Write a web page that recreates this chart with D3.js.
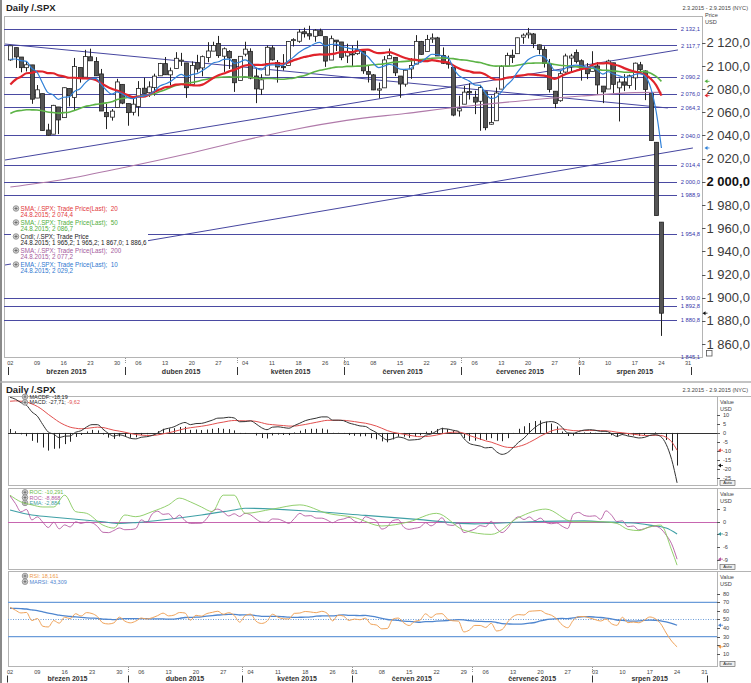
<!DOCTYPE html>
<html><head><meta charset="utf-8"><title>Daily /.SPX</title>
<script src="https://cdn.jsdelivr.net/npm/d3@7/dist/d3.min.js"></script>
<style>
html,body{margin:0;padding:0;background:#fff;}
svg{display:block;}
text{font-family:"Liberation Sans",Arial,Helvetica,sans-serif;}
</style></head><body>
<svg id="chart" width="751" height="683"></svg>
<script>
// ================= DATA =================
const marDays=[2,3,4,5,6,9,10,11,12,13,16,17,18,19,20,23,24,25,26,27,30,31];
const aprDays=[1,2,6,7,8,9,10,13,14,15,16,17,20,21,22,23,24,27,28,29,30];
const mayDays=[1,4,5,6,7,8,11,12,13,14,15,18,19,20,21,22,26,27,28,29];
const junDays=[1,2,3,4,5,8,9,10,11,12,15,16,17,18,19,22,23,24,25,26,29,30];
const julDays=[1,2,6,7,8,9,10,13,14,15,16,17,20,21,22,23,24,27,28,29,30,31];
const augDays=[3,4,5,6,7,10,11,12,13,14,17,18,19,20,21,24,25,26,27,28,31];
const sepDays=[1,2];
const monthNames=["březen 2015","duben 2015","květen 2015","červen 2015","červenec 2015","srpen 2015"];

const open=[2105.2,2115.8,2107.7,2098.5,2100.9,2072.3,2076.1,2044.7,2041.1,2064.6,
2055.4,2080.6,2072.8,2098.7,2090.3,2107.9,2103.9,2093.1,2059.9,2055.8,
2064.1,2084.1,2067.6,2060.0,2064.9,2080.8,2076.9,2081.3,2091.5,2102.0,
2092.3,2097.8,2105.0,2102.6,2084.1,2102.8,2098.3,2107.2,2112.8,2119.3,
2108.4,2112.5,2105.5,2087.4,2110.2,2112.6,2091.3,2079.9,2092.1,2115.6,
2102.9,2099.6,2100.4,2122.1,2121.3,2129.5,2127.8,2125.6,2130.4,2125.3,
2105.1,2122.3,2120.7,2108.6,2110.4,2110.6,2112.4,2095.1,2092.3,2079.1,
2081.1,2106.2,2107.4,2091.3,2084.3,2097.4,2101.6,2121.1,2112.5,2123.2,
2124.2,2109.1,2102.6,2098.6,2061.2,2067.0,2078.0,2073.0,2069.5,2077.7,
2049.7,2052.7,2080.0,2099.7,2109.2,2110.6,2124.8,2126.9,2127.6,2118.2,
2114.2,2102.2,2078.2,2070.0,2094.7,2106.8,2111.6,2104.5,2097.7,2095.3,
2100.0,2082.6,2080.1,2102.7,2081.1,2086.2,2083.2,2089.7,2101.0,2095.7,
2076.6,2034.1,1965.2];
const high=[2117.5,2115.8,2107.7,2104.3,2100.9,2083.5,2076.1,2050.1,2066.4,2064.6,
2081.4,2080.6,2106.9,2098.7,2113.9,2114.9,2107.6,2097.4,2067.2,2062.8,
2088.9,2084.1,2067.6,2072.2,2086.9,2089.8,2086.7,2093.3,2102.6,2107.7,
2098.6,2111.9,2111.3,2102.6,2103.9,2109.6,2109.0,2120.5,2120.9,2125.9,
2116.0,2113.6,2105.5,2108.4,2120.9,2115.2,2098.4,2092.9,2117.7,2117.7,
2105.1,2110.2,2121.5,2123.9,2131.8,2133.0,2134.7,2131.8,2132.2,2125.3,
2126.2,2122.3,2120.7,2119.2,2117.6,2121.9,2112.9,2100.0,2093.0,2085.6,
2108.5,2115.0,2107.4,2091.3,2097.4,2106.8,2126.6,2121.6,2126.8,2128.0,
2125.1,2116.0,2108.9,2098.6,2074.3,2082.8,2085.1,2078.6,2083.7,2077.7,
2074.3,2081.3,2100.7,2111.4,2114.1,2124.4,2128.0,2132.8,2128.4,2118.5,
2116.9,2106.0,2078.2,2095.6,2110.6,2110.5,2114.2,2105.7,2102.5,2112.7,
2103.3,2082.6,2105.4,2102.7,2089.1,2092.9,2092.5,2102.9,2103.5,2096.2,
2076.6,2034.1,1965.2];
const low=[2104.5,2098.3,2094.5,2095.2,2067.3,2072.2,2044.2,2039.7,2041.1,2041.2,
2055.4,2065.1,2061.2,2085.6,2090.3,2104.4,2091.5,2061.1,2045.5,2052.8,
2064.1,2067.0,2048.4,2057.3,2056.5,2076.1,2073.3,2074.3,2091.5,2092.3,
2083.2,2097.8,2100.0,2072.4,2084.1,2094.4,2091.1,2103.2,2112.8,2107.0,
2094.9,2097.4,2077.6,2087.4,2108.3,2088.5,2067.9,2074.9,2092.1,2104.6,
2085.6,2096.0,2100.4,2116.8,2120.0,2124.5,2122.6,2120.9,2126.1,2099.2,
2105.1,2112.8,2104.9,2102.5,2099.1,2109.6,2093.2,2085.7,2079.1,2072.1,
2081.1,2106.2,2091.3,2072.5,2082.1,2088.9,2101.6,2109.5,2112.5,2119.9,
2108.6,2101.8,2097.7,2056.6,2056.3,2067.0,2071.0,2058.4,2044.0,2044.5,
2049.3,2052.7,2080.0,2099.7,2102.5,2110.6,2119.1,2123.7,2115.4,2110.0,
2098.6,2077.1,2063.5,2069.1,2094.1,2094.1,2102.1,2087.3,2088.6,2095.3,
2075.5,2067.9,2080.1,2076.5,2052.1,2078.3,2080.6,2079.3,2094.1,2070.5,
2035.7,1970.9,1867.0];
const close=[2117.4,2107.8,2098.5,2101.0,2071.3,2079.4,2044.2,2040.2,2066.0,2053.4,
2081.2,2074.3,2099.5,2089.3,2108.1,2104.4,2091.5,2061.1,2056.2,2061.0,
2086.2,2067.9,2059.7,2067.0,2080.6,2076.3,2081.9,2091.2,2102.1,2092.4,
2095.8,2106.6,2105.0,2081.2,2100.4,2097.3,2108.0,2112.9,2117.7,2108.9,
2114.8,2106.9,2085.5,2108.3,2114.5,2089.5,2080.2,2088.0,2116.1,2105.3,
2099.1,2098.5,2121.1,2122.7,2129.2,2127.8,2125.9,2130.8,2126.1,2104.2,
2123.5,2120.8,2107.4,2111.7,2109.6,2114.1,2095.8,2092.8,2079.3,2080.2,
2105.2,2108.9,2094.1,2084.4,2096.3,2100.4,2121.2,2110.0,2122.9,2124.2,
2108.6,2102.3,2101.5,2057.6,2063.1,2077.4,2076.8,2068.8,2081.3,2046.7,
2051.3,2076.6,2099.6,2109.0,2107.4,2124.3,2126.6,2128.3,2119.2,2114.2,
2102.2,2079.7,2067.6,2093.3,2108.6,2108.6,2103.8,2098.0,2093.3,2099.8,
2083.6,2077.6,2104.2,2084.1,2086.1,2083.4,2091.5,2102.4,2096.9,2079.6,
2035.7,1970.9,1886.6];

const sma20=[2084.0,2088.3,2090.7,2093.7,2094.1,2095.3,2095.2,2093.8,2093.7,2091.9,
2091.1,2089.8,2089.8,2089.4,2089.3,2089.0,2087.8,2085.2,2082.5,2080.3,
2078.7,2076.7,2074.8,2073.1,2073.6,2073.4,2075.3,2077.8,2079.6,2081.6,
2082.3,2083.9,2084.2,2083.8,2083.4,2083.1,2083.9,2086.5,2089.6,2092.0,
2093.4,2095.3,2096.6,2098.7,2100.4,2101.0,2101.0,2100.8,2101.5,2102.1,
2102.3,2101.9,2102.7,2104.8,2106.2,2107.7,2108.6,2109.5,2110.0,2109.7,
2110.2,2110.9,2111.9,2112.1,2111.9,2113.1,2113.9,2114.1,2112.3,2111.0,
2111.3,2111.9,2110.5,2108.6,2106.9,2105.6,2105.3,2104.3,2104.1,2105.1,
2104.4,2103.5,2103.2,2100.5,2098.1,2096.3,2095.4,2094.2,2094.3,2092.6,
2089.9,2088.3,2088.5,2089.8,2090.3,2091.5,2091.8,2092.7,2092.5,2092.0,
2091.7,2090.6,2088.9,2090.7,2092.9,2094.5,2095.9,2097.3,2097.9,2100.6,
2102.2,2102.2,2102.5,2101.2,2100.2,2098.1,2096.4,2095.1,2093.9,2092.2,
2088.9,2083.4,2074.4];
const sma50=[2059.0,2060.9,2061.6,2062.2,2062.1,2062.0,2061.3,2060.3,2059.8,2059.3,
2059.7,2060.0,2061.6,2063.3,2065.0,2065.8,2066.8,2067.4,2068.1,2069.1,
2071.0,2071.9,2072.7,2073.4,2073.7,2074.2,2074.7,2075.9,2077.9,2079.4,
2081.4,2083.1,2084.2,2085.0,2085.7,2086.6,2087.8,2088.7,2089.7,2090.1,
2090.4,2090.6,2090.3,2090.5,2090.6,2090.2,2089.5,2089.0,2089.1,2089.1,
2088.7,2088.5,2089.0,2089.4,2090.6,2091.5,2093.2,2095.0,2096.2,2097.2,
2098.1,2099.0,2099.1,2099.6,2099.6,2099.8,2099.9,2100.5,2101.0,2101.4,
2101.8,2102.6,2103.3,2103.6,2103.9,2104.4,2105.2,2105.6,2106.0,2106.6,
2106.9,2106.8,2106.7,2106.3,2105.5,2105.1,2104.5,2103.6,2102.9,2101.6,
2100.4,2099.8,2100.0,2100.0,2099.9,2100.6,2101.5,2102.3,2102.4,2102.6,
2102.6,2102.3,2101.2,2100.6,2100.2,2099.8,2099.4,2098.7,2098.1,2098.0,
2097.2,2096.3,2096.2,2095.7,2095.2,2094.6,2094.5,2094.7,2095.1,2095.1,
2093.7,2090.9,2086.7];
const ema10=[2105.6,2106.0,2104.6,2104.0,2098.0,2094.6,2085.5,2077.2,2075.2,2071.2,
2073.0,2073.3,2078.0,2080.1,2085.2,2088.7,2089.2,2084.1,2079.0,2075.7,
2077.6,2075.9,2072.9,2071.8,2073.4,2074.0,2075.4,2078.3,2082.6,2084.4,
2086.5,2090.1,2092.8,2090.7,2092.5,2093.4,2096.0,2099.1,2102.5,2103.6,
2105.7,2105.9,2102.2,2103.3,2105.3,2102.4,2098.4,2096.5,2100.1,2101.0,
2100.7,2100.3,2104.0,2107.4,2111.4,2114.4,2116.5,2119.1,2120.3,2117.4,
2118.5,2118.9,2116.8,2115.9,2114.8,2114.7,2111.2,2107.9,2102.7,2098.6,
2099.8,2101.4,2100.1,2097.3,2097.1,2097.7,2102.0,2103.4,2107.0,2110.1,
2109.8,2108.5,2107.2,2098.2,2091.8,2089.2,2086.9,2083.6,2083.2,2076.6,
2072.0,2072.8,2077.7,2083.4,2087.7,2094.4,2100.2,2105.3,2107.9,2109.0,
2107.8,2102.7,2096.3,2095.8,2098.1,2100.0,2100.7,2100.2,2099.0,2099.1,
2096.3,2092.9,2095.0,2093.0,2091.7,2090.2,2090.5,2092.6,2093.4,2090.9,
2080.9,2060.9,2029.2];
const sma200Idx=[0,10,22,33,43,53,63,74,85,96,107,117,122];
const sma200Val=[1995.5,2002,2013,2024,2035,2045,2053,2059,2065,2070,2074,2077,2077.2];

const levels=[2132.1,2117.7,2090.2,2076.0,2064.3,2040.0,2014.4,2000.0,1988.9,1954.8,1900.0,1892.8,1880.8,1845.1];
const trendFrom=[[-1,2118.9],[-1,2018.8],[-1,1928.2]];
const trendTo=[[123.2,2063.7],[125.1,2113.8],[127.9,2029.2]];
const priceTicks=[2120,2100,2080,2060,2040,2020,2000,1980,1960,1940,1920,1900,1880,1860];

const macdLine=[19.8,18.7,16.8,15.4,11.7,9.3,4.6,0.5,-0.7,-2.6,
-1.8,-1.7,0.4,1.2,3.3,4.6,4.6,2.1,-0.3,-1.8,
-1.0,-1.8,-3.0,-3.3,-2.4,-2.1,-1.4,-0.1,1.8,2.6,
3.4,4.9,5.8,4.6,5.2,5.3,6.1,7.1,8.2,8.3,
8.7,8.3,6.2,6.3,6.7,5.0,2.9,1.8,3.2,3.4,
3.0,2.6,4.1,5.4,6.8,7.6,8.2,8.9,8.9,7.1,
7.1,6.8,5.5,4.7,3.9,3.6,1.8,0.2,-2.1,-3.9,
-3.2,-2.3,-2.8,-4.0,-3.8,-3.4,-1.3,-0.6,1.0,2.4,
2.2,1.5,0.9,-3.1,-5.8,-6.7,-7.3,-8.3,-8.0,-10.5,
-11.9,-10.9,-8.2,-5.2,-2.9,0.3,3.0,5.1,6.0,6.3,
5.5,3.0,0.0,-0.2,0.8,1.6,1.8,1.5,0.9,0.9,
-0.4,-1.9,-0.9,-1.7,-2.2,-2.8,-2.5,-1.4,-1.0,-2.0,
-6.3,-14.7,-27.71];
const macdSignal=[17.6,17.8,17.6,17.2,16.1,14.7,12.7,10.3,8.1,6.0,
4.4,3.2,2.6,2.3,2.5,2.9,3.2,3.0,2.3,1.5,
1.0,0.4,-0.3,-0.9,-1.2,-1.4,-1.4,-1.1,-0.5,0.1,
0.8,1.6,2.4,2.9,3.3,3.7,4.2,4.8,5.5,6.0,
6.6,6.9,6.8,6.7,6.7,6.4,5.7,4.9,4.6,4.3,
4.1,3.8,3.8,4.2,4.7,5.3,5.9,6.5,7.0,7.0,
7.0,7.0,6.7,6.3,5.8,5.4,4.7,3.8,2.6,1.3,
0.4,-0.2,-0.7,-1.3,-1.8,-2.1,-2.0,-1.7,-1.2,-0.5,
0.1,0.4,0.5,-0.2,-1.4,-2.4,-3.4,-4.4,-5.1,-6.2,
-7.3,-8.0,-8.1,-7.5,-6.6,-5.2,-3.6,-1.8,-0.3,1.1,
1.9,2.2,1.7,1.3,1.2,1.3,1.4,1.4,1.3,1.2,
0.9,0.4,0.1,-0.3,-0.7,-1.1,-1.4,-1.4,-1.3,-1.4,
-2.4,-4.9,-9.62];
const macdTicks=[10,5,0,-5,-10,-15,-20,-25];

const roc20=[6.14,4.30,2.36,2.91,0.43,1.16,-0.12,-1.37,-0.12,-1.68,
-0.75,-1.24,-0.01,-0.39,-0.10,-0.25,-1.13,-2.50,-2.58,-2.07,
-1.47,-1.89,-1.85,-1.62,0.45,-0.15,1.84,2.50,1.75,1.90,
0.70,1.56,0.26,-0.39,-0.37,-0.34,0.79,2.51,2.99,2.32,
1.37,1.89,1.25,2.00,1.63,0.64,-0.08,-0.15,0.67,0.62,
0.16,-0.38,0.76,1.99,1.37,1.45,0.85,0.85,0.40,-0.22,
0.41,0.66,1.05,0.16,-0.23,1.18,0.75,0.23,-1.74,-1.19,
0.29,0.50,-1.27,-1.80,-1.55,-1.29,-0.22,-0.98,-0.15,0.95,
-0.70,-0.87,-0.28,-2.56,-2.20,-1.74,-0.91,-1.15,0.10,-1.61,
-2.56,-1.53,0.26,1.18,0.53,1.14,0.25,0.87,-0.17,-0.47,
-0.30,-1.08,-1.61,1.74,2.21,1.50,1.30,1.41,0.58,2.59,
1.57,0.05,0.22,-1.18,-1.01,-1.93,-1.65,-1.22,-1.05,-1.64,
-3.16,-5.23,-8.868];
const rocGreenIdx=[0,2,4,6,8,10,12,14,17,19,21,23,26,29,31,33,35,37,39,41,43,48,53,58,63,68,73,78,83,88,93,98,103,108,111,113,115,117,119,121,122];
const rocGreenVal=[6.3,4.7,4.0,3.5,3.5,6.3,2.4,2.0,-0.8,-1.5,1.6,1.2,2.4,4.0,5.6,4.7,3.5,2.4,6.3,6.3,2.0,3.0,4.0,2.0,1.0,-1.0,0.0,2.0,-2.0,-3.0,1.0,3.0,0.0,0.0,-0.4,-1.8,-2.1,-1.2,-0.8,-6.7,-10.291];
const rocEmaIdx=[0,4,7,17,20,23,29,35,41,43,55,65,75,85,95,105,108,114,117,120,122];
const rocEmaVal=[2.8,1.6,1.2,0.0,-0.4,-0.2,0.6,1.6,2.8,3.2,2.5,1.5,0.5,-0.5,0.0,0.2,0.0,-0.3,-0.8,-1.5,-2.884];
const rocTicks=[3,0,-3,-6,-9];

const rsi=[64.3,60.8,57.6,58.2,48.8,51.1,42.1,41.3,48.7,45.7,
52.7,51.0,56.7,54.0,58.0,56.9,53.3,45.9,44.8,46.1,
52.7,48.1,46.1,48.1,51.7,50.5,52.0,54.5,57.4,54.2,
55.1,58.1,57.5,49.2,54.9,53.9,56.9,58.3,59.6,56.1,
57.9,54.7,46.9,54.4,56.2,48.0,45.4,48.0,56.1,52.7,
50.8,50.6,57.1,57.5,59.3,58.7,57.9,59.5,57.2,48.4,
55.0,53.9,48.9,50.5,49.7,51.5,44.6,43.6,39.1,39.5,
50.3,51.7,46.2,43.0,47.8,49.4,56.6,52.3,56.4,56.8,
50.7,48.5,48.1,35.5,37.7,43.1,43.0,40.7,45.6,36.6,
38.3,47.0,53.4,55.7,55.2,59.5,60.0,60.4,56.9,55.0,
50.6,43.6,40.4,49.0,53.3,53.4,51.8,49.9,48.2,50.5,
45.1,43.2,52.6,46.3,47.0,46.2,49.2,52.9,50.9,45.1,
34.3,24.9,18.161];
const marsi=[63.1,62.9,62.6,62.2,61.2,60.3,58.9,57.3,56.3,55.0,
54.3,53.5,53.0,52.4,51.9,51.6,51.3,50.4,50.2,49.8,
50.6,51.0,50.9,51.0,51.0,50.9,50.6,50.6,50.6,50.4,
50.5,51.4,52.3,52.5,52.7,53.1,53.9,54.6,55.2,55.6,
56.0,56.0,55.2,55.3,55.3,54.6,53.7,53.7,53.7,53.7,
53.2,52.7,52.5,52.6,52.7,53.0,53.8,54.1,54.2,54.2,
54.9,55.3,54.8,54.7,54.6,54.7,53.8,52.8,51.3,50.0,
49.4,48.9,48.1,47.7,47.2,46.8,47.4,47.5,48.0,48.4,
48.8,49.2,49.8,49.5,48.6,48.0,47.8,47.6,47.5,46.5,
45.2,44.9,44.6,44.6,44.9,45.7,46.5,48.3,49.7,50.5,
51.1,51.3,50.9,51.8,52.9,53.3,53.2,52.8,52.3,51.6,
50.6,49.4,49.0,48.4,48.2,48.4,49.0,49.3,49.1,48.5,
47.2,45.5,43.309];
const rsiTicks=[80,70,60,50,40,30,20,10];
const rsiBands=[70,30];

// ================= DRAW =================
const svg=d3.select('#chart');
const N=close.length;
const days=[];
[[3,marDays],[4,aprDays],[5,mayDays],[6,junDays],[7,julDays],[8,augDays],[9,sepDays]]
  .forEach(([m,arr])=>arr.forEach(d=>days.push({m,d,date:new Date(2015,m-1,d)})));

const loc=d3.formatLocale({decimal:",",thousands:"\u00a0",grouping:[3],currency:["",""]});
const fP=loc.format(",.1f");
const pad2=d=>(d<10?"0":"")+d;

const M={l:4,t:16,r:702,b:357};
const L={l:8,r:717};
const P={macd:[396,485],roc:[488,569],rsi:[571,666]};

const xMain=d3.scaleLinear().domain([-1,129.6]).range([M.l+1,M.r]);
const xLow=d3.scaleLinear().domain([-0.37,129.3]).range([L.l,L.r]);
const yMain=d3.scaleLinear().domain([1848.8,2143.1]).range([M.b,M.t]);
const yMacd=d3.scaleLinear().domain([-28.9,20.5]).range(P.macd.slice().reverse());
const yRoc=d3.scaleLinear().domain([-11.2,8.0]).range(P.roc.slice().reverse());
const yRsi=d3.scaleLinear().domain([-4.1,106.4]).range(P.rsi.slice().reverse());

const defs=svg.append('defs');
function clip(id,x,y,w,h){defs.append('clipPath').attr('id',id).append('rect').attr('x',x).attr('y',y).attr('width',w).attr('height',h);}
clip('cMain',M.l,M.t,M.r-M.l,M.b-M.t);
clip('cMacd',L.l,P.macd[0],L.r-L.l,P.macd[1]-P.macd[0]);
clip('cRoc',L.l,P.roc[0],L.r-L.l,P.roc[1]-P.roc[0]);
clip('cRsi',L.l,P.rsi[0],L.r-L.l,P.rsi[1]-P.rsi[0]);

svg.append('line').attr('x1',1).attr('x2',1).attr('y1',0).attr('y2',683).attr('stroke','#8a8a8a').attr('stroke-width',2);
svg.append('line').attr('x1',0).attr('x2',751).attr('y1',382).attr('y2',382).attr('stroke','#b0b0b0').attr('stroke-width',1.5);

function header(y){
  svg.append('text').attr('x',6).attr('y',y).attr('font-size',9.5).attr('font-weight','bold').attr('fill','#222').text('Daily /.SPX');
  svg.append('text').attr('x',748).attr('y',y-1).attr('font-size',5.6).attr('fill','#444').attr('text-anchor','end').text('2.3.2015 - 2.9.2015 (NYC)');
}
header(11); header(393);

const gM=svg.append('g');
gM.append('rect').attr('x',M.l+0.5).attr('y',M.t+0.5).attr('width',M.r-M.l).attr('height',M.b-M.t).attr('fill','#fff').attr('stroke','#b4b4b4');
const gMc=gM.append('g').attr('clip-path','url(#cMain)');
const yClamp=v=>Math.min(M.b-0.5,Math.max(M.t+0.5,yMain(v)));
gMc.selectAll('line.lvl').data(levels).join('line').attr('class','lvl')
  .attr('x1',M.l).attr('x2',677).attr('y1',d=>Math.round(yClamp(d))+0.5).attr('y2',d=>Math.round(yClamp(d))+0.5)
  .attr('stroke','#4a4aa2').attr('stroke-width',1);
gM.selectAll('text.lvl').data(levels).join('text').attr('class','lvl')
  .attr('x',700).attr('y',d=>yClamp(d)+2.2).attr('text-anchor','end').attr('font-size',5.8).attr('fill','#3636a8')
  .text(d=>fP(d));
gMc.selectAll('line.tr').data(trendFrom).join('line').attr('class','tr')
  .attr('x1',d=>xMain(d[0])).attr('y1',d=>yMain(d[1]))
  .attr('x2',(d,i)=>xMain(trendTo[i][0])).attr('y2',(d,i)=>yMain(trendTo[i][1]))
  .attr('stroke','#4646a0').attr('stroke-width',1);
const cd=d3.range(N).map(i=>({i,o:open[i],h:high[i],l:low[i],c:close[i]}));
gMc.selectAll('line.wk').data(cd).join('line').attr('class','wk')
  .attr('x1',d=>Math.round(xMain(d.i))+0.5).attr('x2',d=>Math.round(xMain(d.i))+0.5)
  .attr('y1',d=>yMain(d.h)).attr('y2',d=>yMain(d.l)).attr('stroke','#222').attr('stroke-width',1);
gMc.selectAll('rect.bd').data(cd).join('rect').attr('class','bd')
  .attr('x',d=>Math.round(xMain(d.i))-1.5).attr('width',4)
  .attr('y',d=>yMain(Math.max(d.o,d.c))).attr('height',d=>Math.max(1,Math.abs(yMain(d.o)-yMain(d.c))))
  .attr('fill',d=>d.c>=d.o?'#fff':'#555').attr('stroke','#222').attr('stroke-width',0.8);
const lineM=(xs,ys)=>d3.line().x((d,k)=>xMain(xs[k])).y(d=>yMain(d)).curve(d3.curveMonotoneX)(ys);
const idx=d3.range(N);
gMc.append('path').attr('d',lineM(sma200Idx,sma200Val)).attr('fill','none').attr('stroke','#b07aaa').attr('stroke-width',1.1);
gMc.append('path').attr('d',lineM(idx,sma50)).attr('fill','none').attr('stroke','#5cb346').attr('stroke-width',1.6);
gMc.append('path').attr('d',lineM(idx,sma20)).attr('fill','none').attr('stroke','#e0232b').attr('stroke-width',2.2);
gMc.append('path').attr('d',lineM(idx,ema10)).attr('fill','none').attr('stroke','#2f80d8').attr('stroke-width',1.2);

function icon(g,x,y){
  g.append('circle').attr('cx',x).attr('cy',y).attr('r',2.8).attr('fill','#d4d4d4').attr('stroke','#7a7a7a').attr('stroke-width',0.7);
  g.append('path').attr('d',`M${x-1.6},${y}h3.2M${x},${y-1.6}v3.2`).attr('stroke','#555').attr('stroke-width',0.7);
}
const gL=gM.append('g');
gL.append('rect').attr('x',11).attr('y',203).attr('width',137).attr('height',72).attr('fill','#fff');
const legItems=[
  {t:'SMA; /.SPX; Trade Price(Last);  20',v:'24.8.2015; 2 074,4',c:'#e2373a'},
  {t:'SMA; /.SPX; Trade Price(Last);  50',v:'24.8.2015; 2 086,7',c:'#4fae3c'},
  {t:'Cndl; /.SPX; Trade Price',v:'24.8.2015; 1 965,2; 1 965,2; 1 867,0; 1 886,6',c:'#222'},
  {t:'SMA; /.SPX; Trade Price(Last);  200',v:'24.8.2015; 2 077,2',c:'#a45a9c'},
  {t:'EMA; /.SPX; Trade Price(Last);  10',v:'24.8.2015; 2 029,2',c:'#2f78d0'}];
legItems.forEach((it,k)=>{
  const y=210.5+k*14;
  icon(gL,16,y-2);
  gL.append('text').attr('x',20.5).attr('y',y).attr('font-size',6.3).attr('fill',it.c).style('white-space','pre').text(it.t);
  gL.append('text').attr('x',20.5).attr('y',y+6.6).attr('font-size',6.3).attr('fill',it.c).text(it.v.replace(/ (\d{3},)/g,'\u00a0$1'));
});

const gA=svg.append('g');
gA.selectAll('text.pt').data(priceTicks).join('text').attr('class','pt')
  .attr('x',706.5).attr('y',d=>yMain(d)+4.6).attr('font-size',13).attr('fill',d=>d===2000?'#111':'#3a3a3a')
  .attr('font-weight',d=>d===2000?'bold':'normal').text(d=>fP(d));
gA.selectAll('line.pt').data(priceTicks).join('line').attr('class','pt')
  .attr('x1',M.r).attr('x2',M.r+3.5).attr('y1',d=>Math.round(yMain(d))+0.5).attr('y2',d=>Math.round(yMain(d))+0.5).attr('stroke','#555');
gA.append('text').attr('x',705).attr('y',17).attr('font-size',5.6).attr('fill','#444').text('Price');
gA.append('text').attr('x',705).attr('y',24).attr('font-size',5.6).attr('fill','#444').text('USD');
gA.append('rect').attr('x',706.5).attr('y',350.5).attr('width',5.5).attr('height',5.5).attr('fill','#fff').attr('stroke','#555').attr('stroke-width',0.8);
function marker(g,x,y,c){
  g.append('path').attr('d',`M${x},${y}l3,-2v4z`).attr('fill',c);
  g.append('line').attr('x1',x+2).attr('x2',x+5).attr('y1',y).attr('y2',y).attr('stroke',c).attr('stroke-width',0.8);
}
const lastI=N-1;
marker(gA,704.5,yMain(sma50[lastI]),'#4fae3c');
marker(gA,704.5,yMain(sma20[lastI]),'#e0232b');
marker(gA,704.5,yMain(ema10[lastI]),'#2f80d8');
marker(gA,702.5,yMain(close[lastI]),'#111');

const weekTicks=[];
days.forEach((d,i)=>{
  if(i===0||(d.date-days[i-1].date)/864e5>=7||d.date.getDay()<days[i-1].date.getDay()) weekTicks.push({i,label:pad2(d.d)});
});
const bounds=[-0.5];
days.forEach((d,i)=>{ if(i>0&&d.m!==days[i-1].m) bounds.push(i-0.5); });
function xAxis(x,yT,yM,ySepT,ySepM){
  const g=svg.append('g');
  g.selectAll('text.wt').data(weekTicks).join('text').attr('class','wt')
    .attr('x',d=>x(d.i)).attr('y',yT).attr('text-anchor','middle').attr('font-size',5.6).attr('fill','#444').text(d=>d.label);
  g.selectAll('line.ms').data(bounds).join('line').attr('class','ms')
    .attr('x1',d=>Math.round(x(d))+0.5).attr('x2',d=>Math.round(x(d))+0.5).attr('y1',ySepM[0]).attr('y2',ySepM[1]).attr('stroke','#333').attr('stroke-width',1);
  g.selectAll('line.mt').data(bounds.slice(1,-1)).join('line').attr('class','mt')
    .attr('x1',d=>Math.round(x(d))+0.5).attr('x2',d=>Math.round(x(d))+0.5).attr('y1',ySepT[0]).attr('y2',ySepT[1]).attr('stroke','#666').attr('stroke-width',0.7).attr('stroke-dasharray','1,1');
  g.selectAll('text.mn').data(monthNames).join('text').attr('class','mn')
    .attr('x',(d,k)=>(x(bounds[k])+x(bounds[k+1]))/2).attr('y',yM).attr('text-anchor','middle')
    .attr('font-size',7).attr('font-weight','bold').attr('fill','#333').text(d=>d);
}
xAxis(xMain,365,373.8,[358,364],[367,375]);
xAxis(xLow,674.3,681.3,[667,673],[675.5,682.5]);

const gP=svg.append('g');
[P.macd,P.roc,P.rsi].forEach(p=>{
  gP.append('rect').attr('x',L.l+0.5).attr('y',p[0]+0.5).attr('width',L.r-L.l).attr('height',p[1]-p[0]).attr('fill','none').attr('stroke','#b4b4b4');
  gP.append('line').attr('x1',L.r).attr('x2',751).attr('y1',p[0]+0.5).attr('y2',p[0]+0.5).attr('stroke','#b4b4b4');
  gP.append('rect').attr('x',720).attr('y',p[1]-4.5).attr('width',15).attr('height',5).attr('fill','#eee').attr('stroke','#555').attr('stroke-width',0.6);
  gP.append('text').attr('x',727.5).attr('y',p[1]-0.8).attr('text-anchor','middle').attr('font-size',4.2).attr('fill','#222').text('Auto');
  gP.append('text').attr('x',720).attr('y',p[0]+8).attr('font-size',5.6).attr('fill','#444').text('Value');
  gP.append('text').attr('x',720).attr('y',p[0]+14.5).attr('font-size',5.6).attr('fill','#444').text('USD');
});
function rightTicks(ticks,y){
  gP.selectAll(null).data(ticks).join('text').attr('x',723).attr('y',d=>y(d)+2).attr('font-size',5.6).attr('fill','#444').text(d=>String(d));
  gP.selectAll(null).data(ticks).join('line').attr('x1',L.r).attr('x2',L.r+3).attr('y1',d=>Math.round(y(d))+0.5).attr('y2',d=>Math.round(y(d))+0.5).attr('stroke','#555');
}
rightTicks(macdTicks,yMacd); rightTicks(rocTicks,yRoc); rightTicks(rsiTicks,yRsi);

const lineL=(xs,ys,y)=>d3.line().x((d,k)=>xLow(xs[k])).y(d=>y(d)).curve(d3.curveMonotoneX)(ys);

const gMa=svg.append('g').attr('clip-path','url(#cMacd)');
gMa.append('line').attr('x1',L.l).attr('x2',L.r).attr('y1',Math.round(yMacd(0))+0.5).attr('y2',Math.round(yMacd(0))+0.5).attr('stroke','#333');
gMa.selectAll('line.h').data(idx).join('line').attr('class','h')
  .attr('x1',i=>Math.round(xLow(i))+0.5).attr('x2',i=>Math.round(xLow(i))+0.5)
  .attr('y1',yMacd(0)).attr('y2',i=>yMacd(macdLine[i]-macdSignal[i])).attr('stroke','#222').attr('stroke-width',1);
gMa.append('path').attr('d',lineL(idx,macdSignal,yMacd)).attr('fill','none').attr('stroke','#e2504f').attr('stroke-width',1);
gMa.append('path').attr('d',lineL(idx,macdLine,yMacd)).attr('fill','none').attr('stroke','#333').attr('stroke-width',1);
const gLg=svg.append('g');
icon(gLg,25,396.8);
gLg.append('text').attr('x',29.5).attr('y',398.8).attr('font-size',5.5).attr('fill','#222').text('MACDF: -18,19');
icon(gLg,25,402.4);
const tM=gLg.append('text').attr('x',29.5).attr('y',404.4).attr('font-size',5.5).attr('fill','#222');
tM.append('tspan').text('MACD: -27,71; ');
tM.append('tspan').attr('fill','#e2504f').text('-9,62');
marker(gP,718,yMacd(macdSignal[lastI]),'#e2504f');
marker(gP,718,yMacd(macdLine[lastI]-macdSignal[lastI]),'#111');

const gR=svg.append('g').attr('clip-path','url(#cRoc)');
gR.append('line').attr('x1',L.l).attr('x2',L.r).attr('y1',Math.round(yRoc(0))+0.5).attr('y2',Math.round(yRoc(0))+0.5).attr('stroke','#c766b0');
gR.append('path').attr('d',lineL(rocEmaIdx,rocEmaVal,yRoc)).attr('fill','none').attr('stroke','#3fa0a6').attr('stroke-width',1.1);
gR.append('path').attr('d',lineL(idx,roc20,yRoc)).attr('fill','none').attr('stroke','#b45aa2').attr('stroke-width',0.9);
gR.append('path').attr('d',lineL(rocGreenIdx,rocGreenVal,yRoc)).attr('fill','none').attr('stroke','#86c95e').attr('stroke-width',0.9);
[['ROC: -10,291','#6dbb4c'],['ROC: -8,868','#b45aa2'],['EMA: -2,884','#3a9aa0']].forEach((t,k)=>{
  icon(gLg,25,492.3+k*5.3);
  gLg.append('text').attr('x',29.5).attr('y',494.3+k*5.3).attr('font-size',5.5).attr('fill',t[1]).text(t[0]);
});
marker(gP,718,yRoc(rocEmaVal[rocEmaVal.length-1]),'#3a9aa0');
marker(gP,718,yRoc(roc20[lastI]),'#b45aa2');

const gS=svg.append('g').attr('clip-path','url(#cRsi)');
gS.selectAll('line.b').data(rsiBands).join('line').attr('class','b')
  .attr('x1',L.l).attr('x2',L.r).attr('y1',d=>yRsi(d)).attr('y2',d=>yRsi(d)).attr('stroke','#6b9cd9').attr('stroke-width',1.3);
gS.append('line').attr('x1',L.l).attr('x2',L.r).attr('y1',yRsi(50)).attr('y2',yRsi(50)).attr('stroke','#6b9cd9').attr('stroke-width',1).attr('stroke-dasharray','1,1.5');
gS.append('path').attr('d',lineL(idx,marsi,yRsi)).attr('fill','none').attr('stroke','#4f86cf').attr('stroke-width',1.3);
gS.append('path').attr('d',lineL(idx,rsi,yRsi)).attr('fill','none').attr('stroke','#f0a35a').attr('stroke-width',1);
[['RSI: 18,161','#ee9a4a'],['MARSI: 43,309','#4f86cf']].forEach((t,k)=>{
  icon(gLg,25,576+k*5.7);
  gLg.append('text').attr('x',29.5).attr('y',578+k*5.7).attr('font-size',5.5).attr('fill',t[1]).text(t[0]);
});
marker(gP,718,yRsi(marsi[lastI]),'#4f86cf');
marker(gP,718,yRsi(rsi[lastI]),'#ee9a4a');
</script>
</body></html>
